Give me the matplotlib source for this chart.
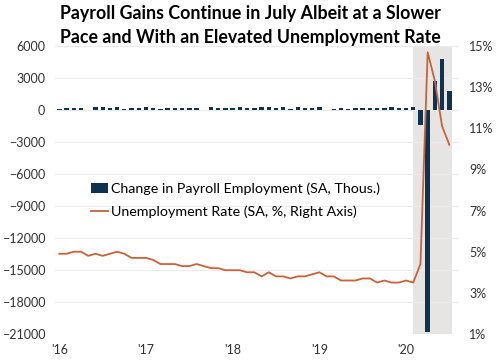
import numpy as np
import matplotlib.pyplot as plt
from matplotlib.ticker import FuncFormatter

plt.rcParams['font.family'] = ['Lato', 'DejaVu Sans']

# Datos mensuales ene-2016 a jul-2020
nomina = [126, 237, 225, 153, 43, 297, 291, 176, 249, 124, 164, 155,
          259, 195, 73, 175, 155, 239, 190, 221, 18, 271, 216, 175,
          176, 324, 155, 175, 268, 248, 178, 282, 108, 277, 176, 169,
          269, 1, 147, 210, 85, 182, 194, 207, 208, 185, 261, 184,
          214, 251, -1373, -20787, 2725, 4781, 1763]
desempleo = [4.9, 4.9, 5.0, 5.0, 4.8, 4.9, 4.8, 4.9, 5.0, 4.9, 4.7, 4.7,
             4.7, 4.6, 4.4, 4.4, 4.4, 4.3, 4.3, 4.4, 4.3, 4.2, 4.2, 4.1,
             4.1, 4.1, 4.0, 4.0, 3.8, 4.0, 3.8, 3.8, 3.7, 3.8, 3.8, 3.9,
             4.0, 3.8, 3.8, 3.6, 3.6, 3.6, 3.7, 3.7, 3.5, 3.6, 3.5, 3.5,
             3.6, 3.5, 4.4, 14.7, 13.3, 11.1, 10.2]
etiquetas_x = ["'16", "'17", "'18", "'19", "'20"]
ticks_izq = [6000, 3000, 0, -3000, -6000, -9000, -12000, -15000, -18000, -21000]
ticks_der = [1, 3, 5, 7, 9, 11, 13, 15]

x = np.arange(len(nomina))
azul = '#0c3452'
naranja = '#c8623a'

fig = plt.figure(figsize=(5, 3.63), dpi=100)
ax = fig.add_axes([0.11, 0.08, 0.806, 0.793])
ax2 = ax.twinx()

ax.axvspan(49, 54.35, color='#e7e5e3', zorder=0, lw=0)
ax.bar(x, nomina, width=0.6, color=azul, zorder=2,
       label='Change in Payroll Employment (SA, Thous.)')
ax2.plot(x, desempleo, color=naranja, lw=1.3,
         label='Unemployment Rate (SA, %, Right Axis)')

ax.set_ylim(-21000, 6000)
ax.set_yticks(ticks_izq)
ax2.set_ylim(1, 15)
ax2.set_yticks(ticks_der)
ax2.yaxis.set_major_formatter(FuncFormatter(lambda v, p: f"{v:.0f}%"))
ax.set_xlim(-0.6, 55.2)
ax.set_xticks(np.arange(0, 55, 12))
ax.set_xticklabels(etiquetas_x)

ax.grid(axis='y', color='#ebebeb', lw=0.8, zorder=0)
for a in (ax, ax2):
    for s in a.spines.values():
        s.set_visible(False)
    a.tick_params(length=0, labelsize=9, colors='#333333')
ax.tick_params(axis='y', pad=7)
ax.tick_params(axis='x', pad=7)
ax2.tick_params(axis='y', pad=8)

h1, l1 = ax.get_legend_handles_labels()
h2, l2 = ax2.get_legend_handles_labels()
ax.legend(h1 + h2, l1 + l2, loc='upper left', bbox_to_anchor=(0.075, 0.545),
          frameon=False, fontsize=10.3, handlelength=1.2, handletextpad=0.2,
          labelspacing=0.7, borderaxespad=0)

fig.suptitle('Payroll Gains Continue in July Albeit at a Slower\nPace and With an Elevated Unemployment Rate',
             fontsize=12.8, fontweight='bold', y=0.985, x=0.5, linespacing=1.45)

fig.savefig('out.png', dpi=100)
